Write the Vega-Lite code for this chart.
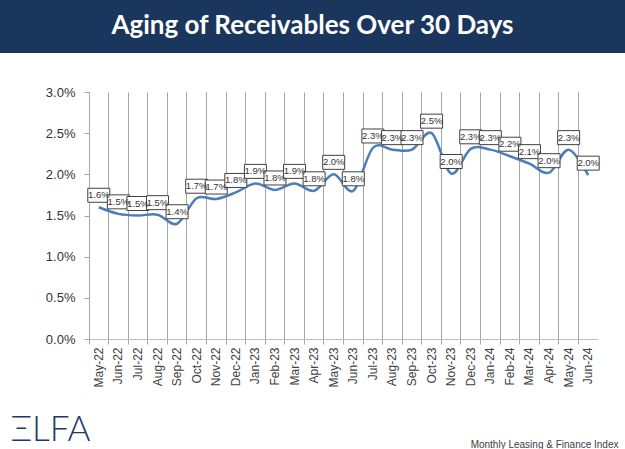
{
  "$schema": "https://vega.github.io/schema/vega-lite/v6.json",
  "padding": 0,
  "spacing": 39,
  "bounds": "flush",
  "background": "white",
  "config": {"view": {"stroke": null}},
  "vconcat": [
    {
      "width": 625,
      "height": 53,
      "view": {"fill": "#1b365d", "stroke": null},
      "data": {"values": [{"title": "Aging of Receivables Over 30 Days"}]},
      "mark": {"type": "text", "font": "Lato", "fontWeight": "bold", "fontSize": 26, "color": "white", "baseline": "middle", "dy": -1},
      "encoding": {"text": {"field": "title"}}
    },
    {
      "width": 625,
      "height": 247,
      "data": {"values": [
        {"month": "May-22", "value": 0.0160},
        {"month": "Jun-22", "value": 0.0152},
        {"month": "Jul-22", "value": 0.0150},
        {"month": "Aug-22", "value": 0.0151},
        {"month": "Sep-22", "value": 0.0140},
        {"month": "Oct-22", "value": 0.0171},
        {"month": "Nov-22", "value": 0.0170},
        {"month": "Dec-22", "value": 0.0178},
        {"month": "Jan-23", "value": 0.0189},
        {"month": "Feb-23", "value": 0.0181},
        {"month": "Mar-23", "value": 0.0189},
        {"month": "Apr-23", "value": 0.0180},
        {"month": "May-23", "value": 0.0200},
        {"month": "Jun-23", "value": 0.0180},
        {"month": "Jul-23", "value": 0.0232},
        {"month": "Aug-23", "value": 0.0230},
        {"month": "Sep-23", "value": 0.0230},
        {"month": "Oct-23", "value": 0.0250},
        {"month": "Nov-23", "value": 0.0201},
        {"month": "Dec-23", "value": 0.0231},
        {"month": "Jan-24", "value": 0.0230},
        {"month": "Feb-24", "value": 0.0222},
        {"month": "Mar-24", "value": 0.0213},
        {"month": "Apr-24", "value": 0.0202},
        {"month": "May-24", "value": 0.0230},
        {"month": "Jun-24", "value": 0.0199}
      ]},
      "encoding": {
        "x": {
          "field": "month", "type": "ordinal", "sort": null,
          "scale": {"type": "band", "paddingInner": 0, "paddingOuter": 0, "range": [89, 598]},
          "axis": {
            "title": "Monthly Leasing & Finance Index",
            "labelAngle": -90, "bandPosition": 0,
            "grid": true, "gridColor": "#a6a6a6", "gridWidth": 1,
            "domainColor": "#bfbfbf", "tickColor": "#a6a6a6", "tickSize": 5,
            "labelPadding": 3,
            "labelFont": "Liberation Sans Narrow, Liberation Sans", "labelFontSize": 12, "labelColor": "#404040",
            "titleFont": "Liberation Sans Narrow, Liberation Sans", "titleFontSize": 10, "titleFontWeight": "normal", "titleColor": "#404040",
            "titleX": 618, "titleY": 108, "titleAlign": "right", "titleBaseline": "alphabetic"
          }
        },
        "y": {
          "field": "value", "type": "quantitative",
          "scale": {"domain": [0, 0.03], "nice": false, "zero": true},
          "axis": {
            "values": [0, 0.005, 0.01, 0.015, 0.02, 0.025, 0.03],
            "format": ".1%", "grid": false, "offset": -89,
            "domainColor": "#a6a6a6", "tickColor": "#a6a6a6", "tickSize": 5,
            "labelPadding": 9, "labelFont": "Liberation Sans", "labelFontSize": 13, "labelColor": "#333333",
            "title": "ΞLFA", "titleAngle": 0, "titleAlign": "left", "titleBaseline": "alphabetic",
            "titleX": -79, "titleY": 348,
            "titleFont": "Lato", "titleFontWeight": 300, "titleFontSize": 35, "titleColor": "#1f3864"
          }
        }
      },
      "layer": [
        {"mark": {"type": "line", "interpolate": "cardinal", "color": "#4a7ebb", "strokeWidth": 2.5}},
        {"mark": {"type": "point", "shape": "M-1,-1.727L1,-1.727L1,-0.455L-1,-0.455Z", "size": 484, "filled": true, "color": "white", "stroke": "#404040", "strokeWidth": 1, "opacity": 1}},
        {"mark": {"type": "text", "dy": -12, "baseline": "middle", "font": "Liberation Sans Narrow, Liberation Sans", "fontSize": 9.5, "color": "#333333"},
         "encoding": {"text": {"field": "value", "type": "quantitative", "format": ".1%"}}}
      ]
    }
  ]
}
